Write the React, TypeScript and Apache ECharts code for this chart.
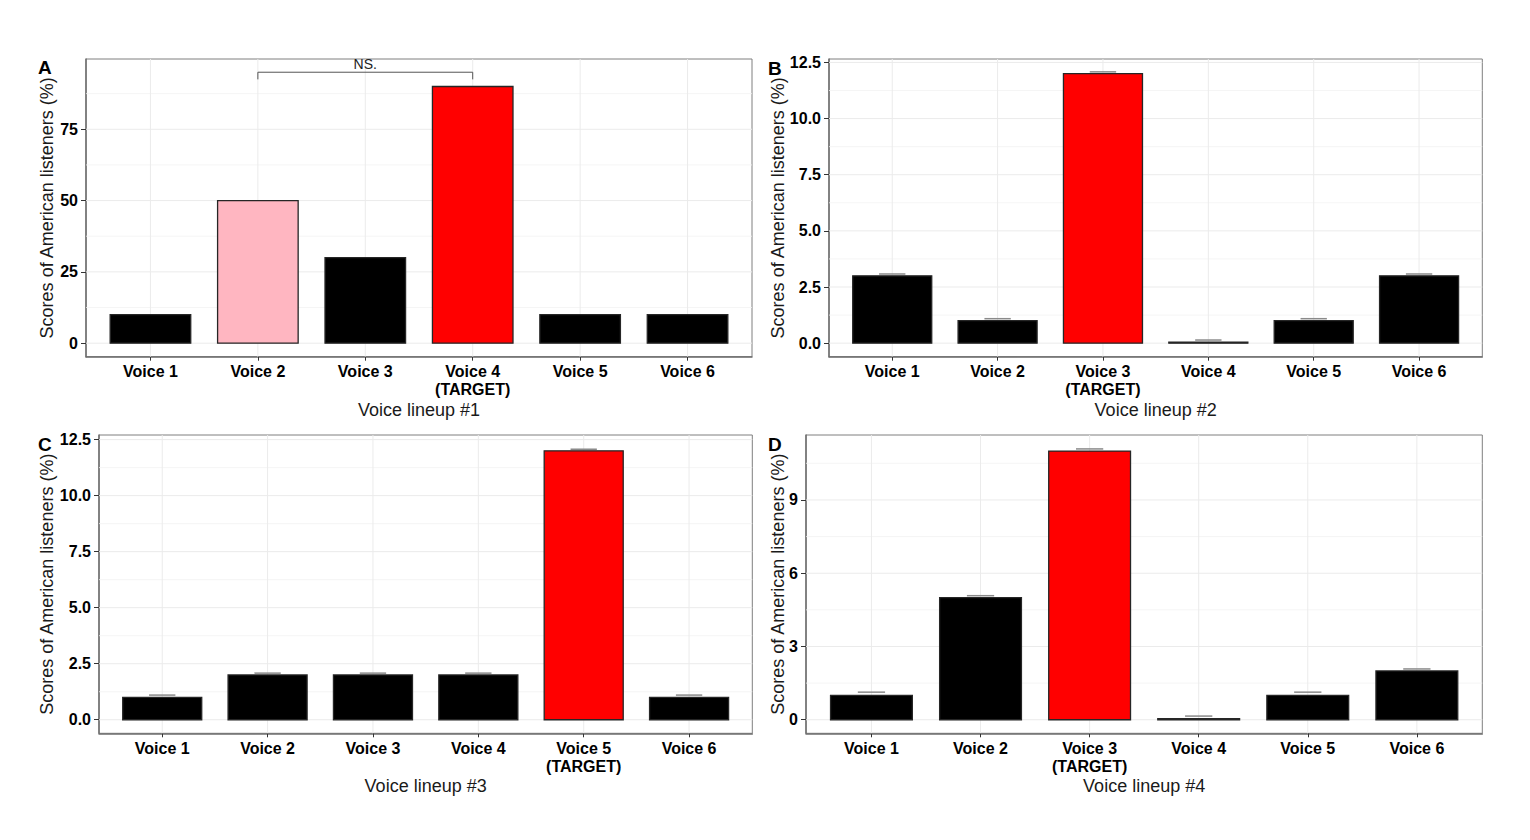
import React, { useEffect, useRef } from "react";
import * as echarts from "echarts";

const FONT = '"Liberation Sans", Arial, Helvetica, sans-serif';

// ---- data ----
const categories1 = ["Voice 1", "Voice 2", "Voice 3", "Voice 4\n(TARGET)", "Voice 5", "Voice 6"];
const categories2 = ["Voice 1", "Voice 2", "Voice 3\n(TARGET)", "Voice 4", "Voice 5", "Voice 6"];
const categories3 = ["Voice 1", "Voice 2", "Voice 3", "Voice 4", "Voice 5\n(TARGET)", "Voice 6"];
const categories4 = ["Voice 1", "Voice 2", "Voice 3\n(TARGET)", "Voice 4", "Voice 5", "Voice 6"];

const scores1 = [10, 50, 30, 90, 10, 10];
const scores2 = [3, 1, 12, 0.05, 1, 3];
const scores3 = [1, 2, 2, 2, 12, 1];
const scores4 = [1, 5, 11, 0.05, 1, 2];

const errors2 = [0.08, 0.09, 0.08, 0.09, 0.09, 0.08];
const errors3 = [0.1, 0.08, 0.08, 0.08, 0.07, 0.1];
const errors4 = [0.13, 0.08, 0.09, 0.1, 0.13, 0.08];

const targetIndex = [3, 2, 4, 2];
const pinkIndex1 = 1;

const yTicks1 = [0, 25, 50, 75];
const yTicks2 = [0, 2.5, 5, 7.5, 10, 12.5];
const yTicks3 = [0, 2.5, 5, 7.5, 10, 12.5];
const yTicks4 = [0, 3, 6, 9];

const yMinor1 = [12.5, 37.5, 62.5, 87.5];
const yMinor2 = [1.25, 3.75, 6.25, 8.75, 11.25];
const yMinor3 = [1.25, 3.75, 6.25, 8.75, 11.25];
const yMinor4 = [1.5, 4.5, 7.5, 10.5];

const bracket1 = { from: 1, to: 3, level: 95, tickLow: 92.5, label: "NS." };

const panelLetters = ["A", "B", "C", "D"];
const xTitles = ["Voice lineup #1", "Voice lineup #2", "Voice lineup #3", "Voice lineup #4"];
const yTitle = "Scores of American listeners (%)";

// ---- layout / style ----
const panels = [
  { cats: categories1, scores: scores1, errors: null as number[] | null, yMin: -4.74, yMax: 99.64, ticks: yTicks1, minor: yMinor1, fmt: (v: number) => String(v), rect: [86, 59, 666, 297.7] },
  { cats: categories2, scores: scores2, errors: errors2, yMin: -0.6025, yMax: 12.6525, ticks: yTicks2, minor: yMinor2, fmt: (v: number) => v.toFixed(1), rect: [829, 59, 653.3, 297.7] },
  { cats: categories3, scores: scores3, errors: errors3, yMin: -0.605, yMax: 12.705, ticks: yTicks3, minor: yMinor3, fmt: (v: number) => v.toFixed(1), rect: [99, 435, 653.3, 298.3] },
  { cats: categories4, scores: scores4, errors: errors4, yMin: -0.555, yMax: 11.66, ticks: yTicks4, minor: yMinor4, fmt: (v: number) => String(v), rect: [806, 435, 676.3, 298.3] },
];

const BLACK = "#000000";
const RED = "#FF0000";
const PINK = "#FFB6C1";
const GRID_COLOR = "#ebebeb";

export default function App() {
  const ref = useRef<HTMLDivElement>(null);

  useEffect(() => {
    if (!ref.current) return;
    const chart = echarts.init(ref.current, null, { renderer: "svg" });

    const grid: any[] = [];
    const xAxis: any[] = [];
    const yAxis: any[] = [];
    const series: any[] = [];
    const graphic: any[] = [];
    const catIdx = [0, 1, 2, 3, 4, 5];

    panels.forEach((p, i) => {
      const [l, t, w, h] = p.rect;
      grid.push({
        left: l, top: t, width: w, height: h,
        show: true, borderColor: "#7f7f7f", borderWidth: 1, backgroundColor: "transparent",
        containLabel: false, outerBoundsMode: "none",
      });
      xAxis.push({
        gridIndex: i, type: "value", min: -0.6, max: 5.6,
        axisLine: { show: true, onZero: false, lineStyle: { color: "#6e6e6e", width: 1.5 } },
        axisTick: { show: true, customValues: catIdx, length: 4, lineStyle: { color: "#333", width: 1 } },
        axisLabel: {
          show: true, customValues: catIdx, formatter: (v: number) => p.cats[Math.round(v)],
          fontFamily: FONT, fontWeight: "bold", fontSize: 16, color: "#000", margin: 6, lineHeight: 18, align: "center",
        },
        splitLine: { show: false },
      });
      yAxis.push({
        gridIndex: i, type: "value", min: p.yMin, max: p.yMax,
        axisLine: { show: true, onZero: false, lineStyle: { color: "#6e6e6e", width: 1.5 } },
        axisTick: { show: true, customValues: p.ticks, length: 5, lineStyle: { color: "#333", width: 1 } },
        axisLabel: {
          show: true, customValues: p.ticks, formatter: (v: number) => p.fmt(v),
          fontFamily: FONT, fontWeight: "bold", fontSize: 16, color: "#000", margin: 8,
        },
        splitLine: { show: false },
      });

      // gridlines: [x, y, kind] kind 0 major-h, 1 minor-h, 2 vertical
      const gdata: number[][] = [];
      p.minor.forEach((v) => gdata.push([0, v, 1]));
      p.ticks.forEach((v) => gdata.push([0, v, 0]));
      catIdx.forEach((c) => gdata.push([c, 0, 2]));
      series.push({
        type: "custom", xAxisIndex: i, yAxisIndex: i, z: 1, silent: true,
        data: gdata,
        renderItem: (params: any, api: any) => {
          const cs = params.coordSys;
          const kind = api.value(2);
          if (kind === 2) {
            const x = api.coord([api.value(0), 0])[0];
            return { type: "line", shape: { x1: x, y1: cs.y, x2: x, y2: cs.y + cs.height }, style: { stroke: GRID_COLOR, lineWidth: 1 } };
          }
          const y = api.coord([0, api.value(1)])[1];
          return { type: "line", shape: { x1: cs.x, y1: y, x2: cs.x + cs.width, y2: y }, style: { stroke: kind === 0 ? GRID_COLOR : "#f2f2f2", lineWidth: kind === 0 ? 1 : 0.8 } };
        },
      });

      // bars
      series.push({
        type: "custom", xAxisIndex: i, yAxisIndex: i, z: 3, silent: true,
        data: p.scores.map((v, k) => [k, v]),
        renderItem: (params: any, api: any) => {
          const k = api.value(0);
          const v = api.value(1);
          const p0 = api.coord([k - 0.375, 0]);
          const p1 = api.coord([k + 0.375, v]);
          let fill = BLACK;
          if (k === targetIndex[i]) fill = RED;
          else if (i === 0 && k === pinkIndex1) fill = PINK;
          return {
            type: "rect",
            shape: { x: p0[0], y: p1[1], width: p1[0] - p0[0], height: Math.max(p0[1] - p1[1], 0.5) },
            style: { fill, stroke: "#262626", lineWidth: 1.3 },
          };
        },
      });

      // error bar caps
      if (p.errors) {
        const errs = p.errors;
        series.push({
          type: "custom", xAxisIndex: i, yAxisIndex: i, z: 4, silent: true,
          data: p.scores.map((v, k) => [k, v + errs[k]]),
          renderItem: (params: any, api: any) => {
            const k = api.value(0);
            const top = api.value(1);
            const a = api.coord([k - 0.125, top]);
            const b = api.coord([k + 0.125, top]);
            return { type: "line", shape: { x1: a[0], y1: a[1], x2: b[0], y2: b[1] }, style: { stroke: "#8a8a8a", lineWidth: 1.5 } };
          },
        });
      }

      // panel letter
      const letterPos = [[38, 67], [768, 68], [38, 444], [768, 444.5]][i];
      graphic.push({
        type: "text", x: letterPos[0], y: letterPos[1], z: 10,
        style: { text: panelLetters[i], fontFamily: FONT, fontWeight: "bold", fontSize: 19, fill: "#000", align: "left", verticalAlign: "middle" },
      });
      // y title
      graphic.push({
        type: "text", x: i % 2 === 0 ? 47 : 778, y: t + h / 2, rotation: Math.PI / 2, z: 10,
        style: { text: yTitle, fontFamily: FONT, fontSize: 18, fill: "#1a1a1a", align: "center", verticalAlign: "middle" },
      });
      // x title
      graphic.push({
        type: "text", x: l + w / 2, y: i < 2 ? 410 : 786, z: 10,
        style: { text: xTitles[i], fontFamily: FONT, fontSize: 18, fill: "#1a1a1a", align: "center", verticalAlign: "middle" },
      });
    });

    // significance bracket in panel A
    series.push({
      type: "custom", xAxisIndex: 0, yAxisIndex: 0, z: 5, silent: true, clip: false,
      data: [[bracket1.from, bracket1.level, bracket1.to, bracket1.tickLow]],
      renderItem: (params: any, api: any) => {
        const x1 = api.value(0), lvl = api.value(1), x2 = api.value(2), low = api.value(3);
        const a = api.coord([x1, low]);
        const b = api.coord([x1, lvl]);
        const c = api.coord([x2, lvl]);
        const d = api.coord([x2, low]);
        return {
          type: "group",
          children: [
            { type: "polyline", shape: { points: [a, b, c, d] }, style: { stroke: "#555", lineWidth: 1, fill: null } },
            { type: "text", style: { text: bracket1.label, x: (b[0] + c[0]) / 2, y: b[1] - 1.5, align: "center", verticalAlign: "bottom", fontFamily: FONT, fontSize: 14, fill: "#222" } },
          ],
        };
      },
    });

    chart.setOption({
      animation: false,
      backgroundColor: "#ffffff",
      grid, xAxis, yAxis, series, graphic,
    });

    return () => chart.dispose();
  }, []);

  return <div ref={ref} style={{ position: "absolute", left: 0, top: 0, width: 1530, height: 840 }} />;
}
